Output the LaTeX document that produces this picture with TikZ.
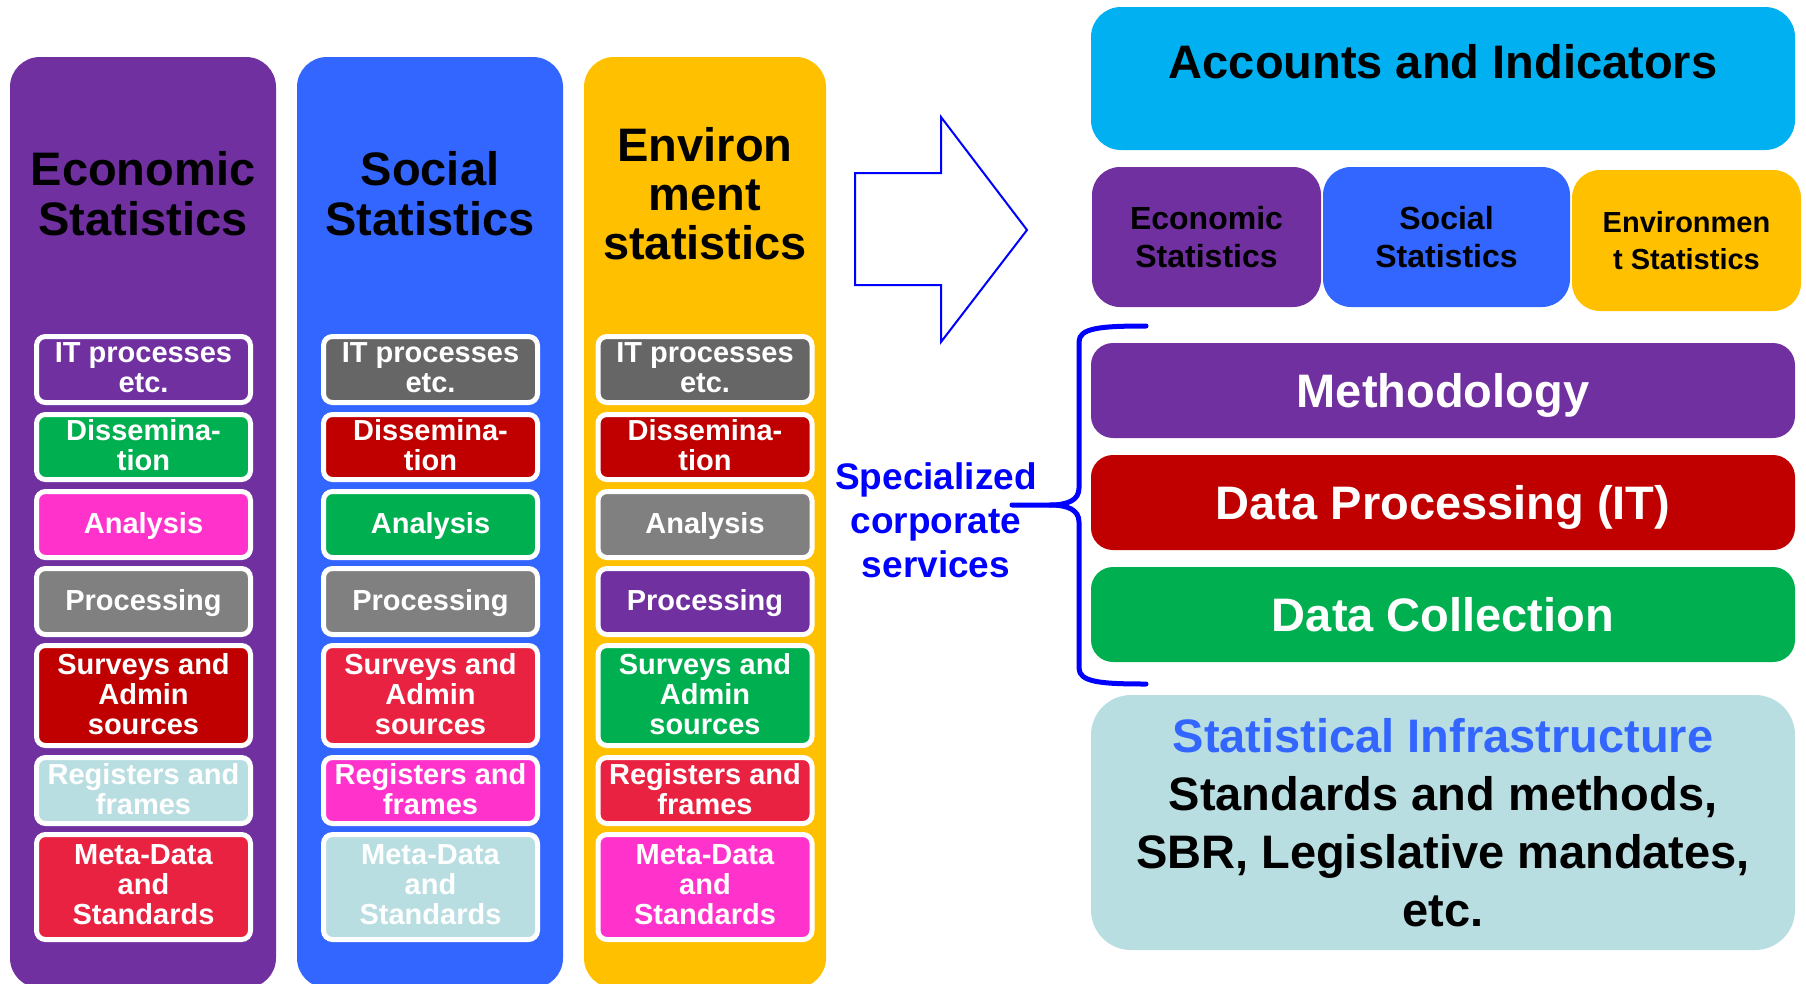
\documentclass[tikz,border=0pt]{standalone}
\usepackage{fontspec}
\setmainfont{Liberation Sans}
\definecolor{purp}{HTML}{7030A0}
\definecolor{sblue}{HTML}{3366FF}
\definecolor{envy}{HTML}{FFC000}
\definecolor{grn}{HTML}{00B050}
\definecolor{dred}{HTML}{C00000}
\definecolor{pink}{HTML}{FF33CC}
\definecolor{grayA}{HTML}{808080}
\definecolor{grayB}{HTML}{666666}
\definecolor{crim}{HTML}{EA2241}
\definecolor{lblue}{HTML}{B9DEE2}
\definecolor{cyanbox}{HTML}{00B0F0}
\definecolor{pblue}{HTML}{0000FF}
\begin{document}
\begin{tikzpicture}[x=1pt,y=-1pt,
  colbox/.style={rounded corners=30pt, minimum height=931pt, inner sep=0pt},
  cell/.style={draw=white, line width=5pt, rounded corners=9pt, minimum width=214pt,
    inner sep=0pt, text=white, align=center, text depth=4pt, font=\fontsize{29}{30}\selectfont\bfseries},
  bigtitle/.style={align=center, text=black, inner sep=0pt},
  smallbox/.style={rounded corners=28pt, inner sep=0pt, minimum height=140pt, align=center,
    text=black, font=\fontsize{32}{38}\selectfont\bfseries},
  bar/.style={rounded corners=22pt, minimum width=704pt, minimum height=95pt, inner sep=0pt,
    text=white, text depth=0pt, font=\fontsize{47}{50}\selectfont\bfseries},
  bracestyle/.style={draw=pblue, line width=5pt, line cap=round, line join=round},
]
\useasboundingbox (0,0) rectangle (1806,983);

% columns
\node[colbox, fill=purp, minimum width=266pt] (ecol) at (143,522.5) {};
\node[colbox, fill=sblue, minimum width=266pt] (scol) at (430,522.5) {};
\node[colbox, fill=envy, minimum width=242pt] (vcol) at (705,522.5) {};

% titles
\node[bigtitle, font=\fontsize{47}{50}\selectfont\bfseries] (etitle) at (143,193.5) {Economic\\Statistics};
\node[bigtitle, font=\fontsize{47}{50}\selectfont\bfseries] (stitle) at (430,193.5) {Social\\Statistics};
\node[bigtitle, font=\fontsize{47}{49}\selectfont\bfseries] (vtitle) at (705,194) {Environ\\ment\\statistics};

% economic cells
\node[cell, fill=purp, minimum height=66pt] (e1) at (143.5,369.5) {IT processes\\etc.};
\node[cell, fill=grn, minimum height=65pt] (e2) at (143.5,447) {Dissemina-\\tion};
\node[cell, fill=pink, minimum height=66pt] (e3) at (143.5,524.5) {Analysis};
\node[cell, fill=grayA, minimum height=66pt] (e4) at (143.5,601.5) {Processing};
\node[cell, fill=dred, minimum height=100pt] (e5) at (143.5,695.5) {Surveys and\\Admin\\sources};
\node[cell, fill=lblue, minimum height=66pt] (e6) at (143.5,790.5) {Registers and\\frames};
\node[cell, fill=crim, minimum height=105pt] (e7) at (143.5,887) {Meta-Data\\and\\Standards};

% social cells
\node[cell, fill=grayB, minimum height=66pt] (s1) at (430.5,369.5) {IT processes\\etc.};
\node[cell, fill=dred, minimum height=65pt] (s2) at (430.5,447) {Dissemina-\\tion};
\node[cell, fill=grn, minimum height=66pt] (s3) at (430.5,524.5) {Analysis};
\node[cell, fill=grayA, minimum height=66pt] (s4) at (430.5,601.5) {Processing};
\node[cell, fill=crim, minimum height=100pt] (s5) at (430.5,695.5) {Surveys and\\Admin\\sources};
\node[cell, fill=pink, minimum height=66pt] (s6) at (430.5,790.5) {Registers and\\frames};
\node[cell, fill=lblue, minimum height=105pt] (s7) at (430.5,887) {Meta-Data\\and\\Standards};

% environment cells
\node[cell, fill=grayB, minimum height=66pt] (v1) at (705,369.5) {IT processes\\etc.};
\node[cell, fill=dred, minimum height=65pt] (v2) at (705,447) {Dissemina-\\tion};
\node[cell, fill=grayA, minimum height=66pt] (v3) at (705,524.5) {Analysis};
\node[cell, fill=purp, minimum height=66pt] (v4) at (705,601.5) {Processing};
\node[cell, fill=grn, minimum height=100pt] (v5) at (705,695.5) {Surveys and\\Admin\\sources};
\node[cell, fill=crim, minimum height=66pt] (v6) at (705,790.5) {Registers and\\frames};
\node[cell, fill=pink, minimum height=105pt] (v7) at (705,887) {Meta-Data\\and\\Standards};

% big arrow
\draw[pblue, line width=2pt, fill=white, line join=miter]
  (855,173) -- (941,173) -- (941,117) -- (1027,230) -- (941,342) -- (941,285) -- (855,285) -- cycle;

% right side
\node[rounded corners=30pt, fill=cyanbox, minimum width=704pt, minimum height=143pt, inner sep=0pt] (acc) at (1443,78.5) {};
\node[text=black, text depth=0pt, inner sep=0pt, font=\fontsize{47}{50}\selectfont\bfseries] (acct) at (1443,61) {Accounts and Indicators};

\node[smallbox, fill=purp, minimum width=229pt] (secon) at (1206.5,237) {Economic\\Statistics};
\node[smallbox, fill=sblue, minimum width=247pt] (ssoc) at (1446.5,237) {Social\\Statistics};
\node[smallbox, fill=envy, minimum width=229pt, minimum height=141pt, font=\fontsize{29}{37}\selectfont\bfseries] (senv) at (1686.5,240.5) {Environmen\\t Statistics};

\node[bar, fill=purp] (meth) at (1443,390.5) {Methodology};
\node[bar, fill=dred] (dproc) at (1443,502.5) {Data Processing (IT)};
\node[bar, fill=grn] (dcoll) at (1443,614.5) {Data Collection};

\node[rounded corners=40pt, fill=lblue, minimum width=704pt, minimum height=255pt, inner sep=0pt,
  align=center, text=black, font=\fontsize{47}{58}\selectfont\bfseries] (infra) at (1443,822.5)
  {\textcolor{sblue}{Statistical Infrastructure}\\Standards and methods,\\SBR, Legislative mandates,\\etc.};

% specialized corporate services
\node[align=center, text=pblue, inner sep=0pt, font=\fontsize{37}{44}\selectfont\bfseries] (spec) at (936,520.5)
  {Specialized\\corporate\\services};

% brace
\coordinate (btop) at (1146,326);
\coordinate (bbot) at (1146,684);
\coordinate (btip) at (1012,505);
\draw[bracestyle] (btop) .. controls (1100,326) and (1079,328) .. (1079,342) -- (1079,488)
  .. controls (1079,500) and (1068,505) .. (1050,505) -- (btip);
\draw[bracestyle] (1050,505) .. controls (1068,505) and (1079,510) .. (1079,522) -- (1079,668)
  .. controls (1079,682) and (1100,684) .. (bbot);
\end{tikzpicture}
\end{document}
